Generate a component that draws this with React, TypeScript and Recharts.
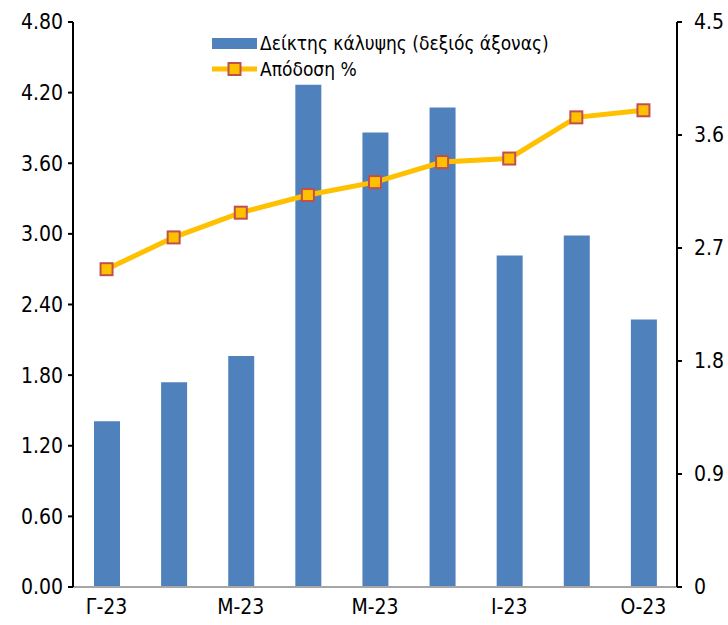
import { ComposedChart, Bar, Line, XAxis, YAxis, Legend } from 'recharts';

const months = ['Γ-23', 'Φ-23', 'Μ-23', 'Α-23', 'Μ-23', 'Ι-23', 'Ι-23', 'Σ-23', 'Ο-23'];
const coverage = [1.32, 1.63, 1.84, 4.0, 3.62, 3.82, 2.64, 2.8, 2.13];
const yieldPct = [2.7, 2.97, 3.18, 3.33, 3.44, 3.61, 3.64, 3.99, 4.05];
const leftTicks = [0, 0.6, 1.2, 1.8, 2.4, 3.0, 3.6, 4.2, 4.8];
const rightTicks = [0, 0.9, 1.8, 2.7, 3.6, 4.5];

const barName = 'Δείκτης κάλυψης (δεξιός άξονας)';
const lineName = 'Απόδοση %';

const FONT = '"DejaVu Sans Condensed", "DejaVu Sans", sans-serif';

const SquareDot = (props: any) => {
  const { cx, cy, index } = props;
  if (cx == null || cy == null) return null;
  return <rect key={index} x={cx - 6} y={cy - 6} width={12} height={12} fill="#FFC000" stroke="#C0504D" strokeWidth={2} />;
};

const renderLegend = () => (
  <div style={{ fontFamily: FONT, fontSize: 19, color: '#000', lineHeight: '26px' }}>
    <div style={{ display: 'flex', alignItems: 'center' }}>
      <span style={{ display: 'inline-block', width: 45, height: 11, background: '#4F81BD', marginRight: 3 }} />
      {barName}
    </div>
    <div style={{ display: 'flex', alignItems: 'center' }}>
      <svg width={45} height={14} style={{ marginRight: 3 }}>
        <line x1={0} y1={7} x2={45} y2={7} stroke="#FFC000" strokeWidth={5} />
        <rect x={16.5} y={1} width={12} height={12} fill="#FFC000" stroke="#C0504D" strokeWidth={2} />
      </svg>
      {lineName}
    </div>
  </div>
);

export default function App() {
  const data = months.map((m, i) => ({ month: m, coverage: coverage[i], yield: yieldPct[i] }));
  return (
    <div style={{ position: 'absolute', left: 0, top: 0, background: '#fff' }}>
      <ComposedChart width={728} height={625} data={data} margin={{ top: 22, right: 0, bottom: 0, left: 0 }}>
        <XAxis
          dataKey="month"
          interval={1}
          tickLine={false}
          axisLine={{ stroke: '#A6A6A6', strokeWidth: 2 }}
          height={38}
          tickMargin={6}
          tick={{ fill: '#000', fontSize: 21, fontFamily: FONT }}
        />
        <YAxis
          yAxisId="left"
          orientation="left"
          width={73}
          domain={[0, 4.8]}
          ticks={leftTicks}
          interval={0}
          tickFormatter={(v: number) => v.toFixed(2)}
          axisLine={{ stroke: '#000', strokeWidth: 2 }}
          tickLine={{ stroke: '#000', strokeWidth: 2 }}
          tickSize={5}
          tickMargin={5}
          tick={{ fill: '#000', fontSize: 21, fontFamily: FONT }}
        />
        <YAxis
          yAxisId="right"
          orientation="right"
          width={51}
          domain={[0, 4.5]}
          ticks={rightTicks}
          interval={0}
          tickFormatter={(v: number) => String(Number(v.toFixed(1)))}
          axisLine={{ stroke: '#000', strokeWidth: 2 }}
          tickLine={{ stroke: '#000', strokeWidth: 2 }}
          tickSize={5}
          tickMargin={12}
          tick={{ fill: '#000', fontSize: 21, fontFamily: FONT }}
        />
        <Legend
          content={renderLegend}
          layout="vertical"
          verticalAlign="middle"
          align="center"
          wrapperStyle={{ position: 'absolute', left: 212, top: 30, width: 400 }}
        />
        <Bar yAxisId="right" dataKey="coverage" name={barName} fill="#4F81BD" barSize={26} isAnimationActive={false} />
        <Line
          yAxisId="left"
          dataKey="yield"
          name={lineName}
          type="linear"
          stroke="#FFC000"
          strokeWidth={5}
          dot={SquareDot}
          activeDot={false}
          isAnimationActive={false}
        />
      </ComposedChart>
    </div>
  );
}
